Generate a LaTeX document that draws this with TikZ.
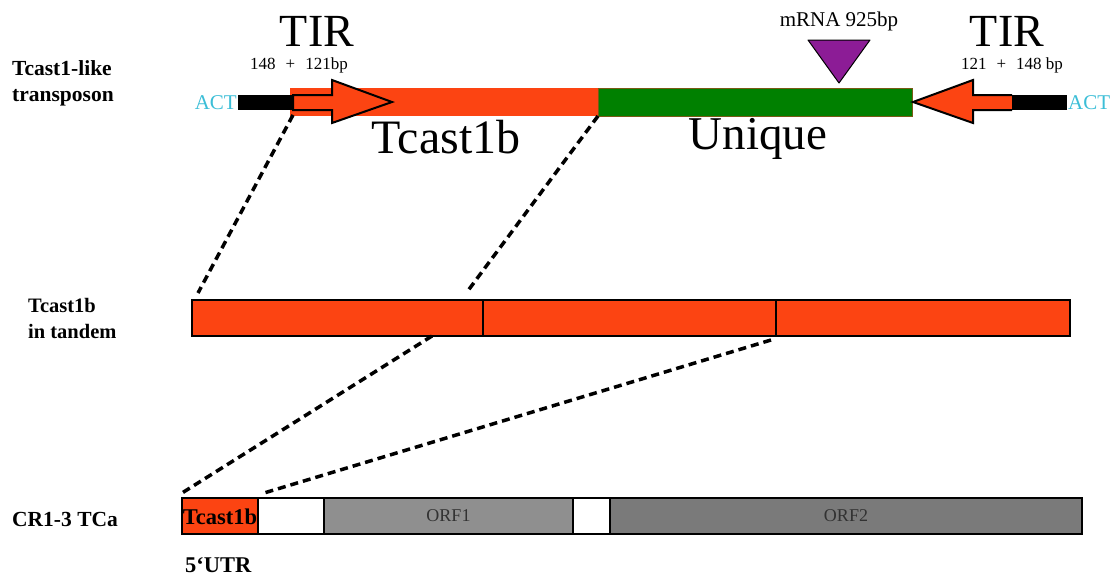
\documentclass[tikz,border=0pt]{standalone}
\usepackage{fontspec}
\setmainfont{Liberation Serif}
\definecolor{tcorange}{RGB}{252,68,18}
\definecolor{uqgreen}{RGB}{0,128,0}
\definecolor{uqedge}{RGB}{120,90,20}
\definecolor{mpurple}{RGB}{140,28,150}
\definecolor{actcyan}{RGB}{60,190,215}
\definecolor{orfone}{RGB}{143,143,143}
\definecolor{orftwo}{RGB}{122,122,122}
\definecolor{orftext}{RGB}{50,50,50}
\begin{document}
\begin{tikzpicture}[x=1pt,y=-1pt,
  box/.style={draw=black, line width=2.5pt, inner sep=0pt, outer sep=0pt, anchor=north west},
  flat/.style={inner sep=0pt, outer sep=0pt, anchor=north west},
  rowlabel/.style={font=\bfseries\fontsize{21.5}{26}\selectfont, anchor=west, align=left, inner sep=0pt},
  link/.style={line width=3.5pt, dash pattern=on 8pt off 5pt},
  arrowshape/.style={fill=tcorange, draw=black, line width=2pt, line join=miter},
  big/.style={font=\fontsize{46}{50}\selectfont, inner sep=0pt},
  tirlabel/.style={font=\fontsize{46}{50}\selectfont, inner sep=0pt, anchor=base, text depth=0pt}
]
\useasboundingbox (0,0) rectangle (1120,576);

% ---------- top row: Tcast1-like transposon ----------
\node[rowlabel] (lab1) at (12,83) {Tcast1-like\\transposon};

\node[flat, fill=tcorange, minimum width=308pt, minimum height=28pt] (tcb) at (290,88) {};
\node[flat, fill=uqgreen, draw=uqedge, line width=1pt, minimum width=314pt, minimum height=28pt] (uq) at (598,88) {};

\node[flat, fill=black, minimum width=55pt, minimum height=15pt] (actL) at (238,95) {};
\node[flat, fill=black, minimum width=55pt, minimum height=15pt] (actR) at (1012,95) {};

\node[anchor=east, text=actcyan, font=\fontsize{21}{22}\selectfont, inner sep=1pt] (actLt) at (actL.west) {ACT};
\node[anchor=west, text=actcyan, font=\fontsize{21}{22}\selectfont, inner sep=1pt] (actRt) at (actR.east) {ACT};

% TIR arrows
\draw[arrowshape] (293,95) -- (332,95) -- (332,80) -- (392,102) -- (332,123) -- (332,110) -- (293,110) -- cycle;
\draw[arrowshape] (1012,95) -- (973,95) -- (973,80) -- (913,102) -- (973,123) -- (973,110) -- (1012,110);
\fill[black] (1012,95) rectangle (1067,110);

\node[tirlabel] (tirL) at (317,46) {TIR};
\node[font=\fontsize{17}{18}\selectfont, inner sep=0pt] (tirLn) at (299,65) {148\hspace{10pt}+\hspace{10pt}121bp};
\node[tirlabel] (tirR) at (1007,46) {TIR};
\node[font=\fontsize{17}{18}\selectfont, inner sep=0pt] (tirRn) at (1012,65) {121\hspace{10pt}+\hspace{10pt}148 bp};

\node[font=\fontsize{21}{22}\selectfont, inner sep=0pt] (mrna) at (839,21) {mRNA 925bp};
\draw[fill=mpurple, draw=black, line width=1pt, line join=round] (808,40) -- (870,40) -- (839,83) -- cycle;

\node[big, font=\fontsize{48}{50}\selectfont] (tcbt) at (446,137) {Tcast1b};
\node[big, font=\fontsize{47}{50}\selectfont] (uqt) at (758,139) {Unique};

% ---------- middle row: Tcast1b in tandem ----------
\node[rowlabel, font=\bfseries\fontsize{20.5}{26}\selectfont] (lab2) at (28,318) {Tcast1b\\in tandem};
\node[box, fill=tcorange, minimum width=878pt, minimum height=36pt] (tan) at (192,300) {};
\draw[line width=2.5pt] (483,300) -- (483,336);
\draw[line width=2.5pt] (776,300) -- (776,336);

% ---------- bottom row: CR1-3 TCa ----------
\node[rowlabel] (lab3) at (12,519) {CR1-3 TCa};
\node[box, fill=tcorange, minimum width=76pt, minimum height=36pt] (s1) at (182,498) {};
\node[box, fill=white, minimum width=66pt, minimum height=36pt] (s2) at (258,498) {};
\node[box, fill=orfone, minimum width=249pt, minimum height=36pt] (s3) at (324,498) {};
\node[box, fill=white, minimum width=37pt, minimum height=36pt] (s4) at (573,498) {};
\node[box, fill=orftwo, minimum width=472pt, minimum height=36pt] (s5) at (610,498) {};
\node[font=\bfseries\fontsize{22.5}{22}\selectfont, inner sep=0pt] (s1t) at (220,517) {Tcast1b};
\node[font=\fontsize{18}{18}\selectfont, text=orftext, inner sep=0pt] (s3t) at (s3.center) {ORF1};
\node[font=\fontsize{18}{18}\selectfont, text=orftext, inner sep=0pt] (s5t) at (s5.center) {ORF2};
\node[font=\bfseries\fontsize{22.5}{22}\selectfont, anchor=west, inner sep=0pt] (utr) at (185,565) {5‘UTR};

% ---------- dashed links ----------
\coordinate (a1) at (293,115);
\coordinate (b1) at (198,293);
\coordinate (a2) at (598,116);
\coordinate (b2) at (467,292);
\coordinate (a3) at (432,336);
\coordinate (b3) at (182,493);
\coordinate (a4) at (771,340);
\coordinate (b4) at (264,493);
\draw[link] (a1) -- (b1);
\draw[link] (a2) -- (b2);
\draw[link] (a3) -- (b3);
\draw[link] (a4) -- (b4);
\end{tikzpicture}
\end{document}
